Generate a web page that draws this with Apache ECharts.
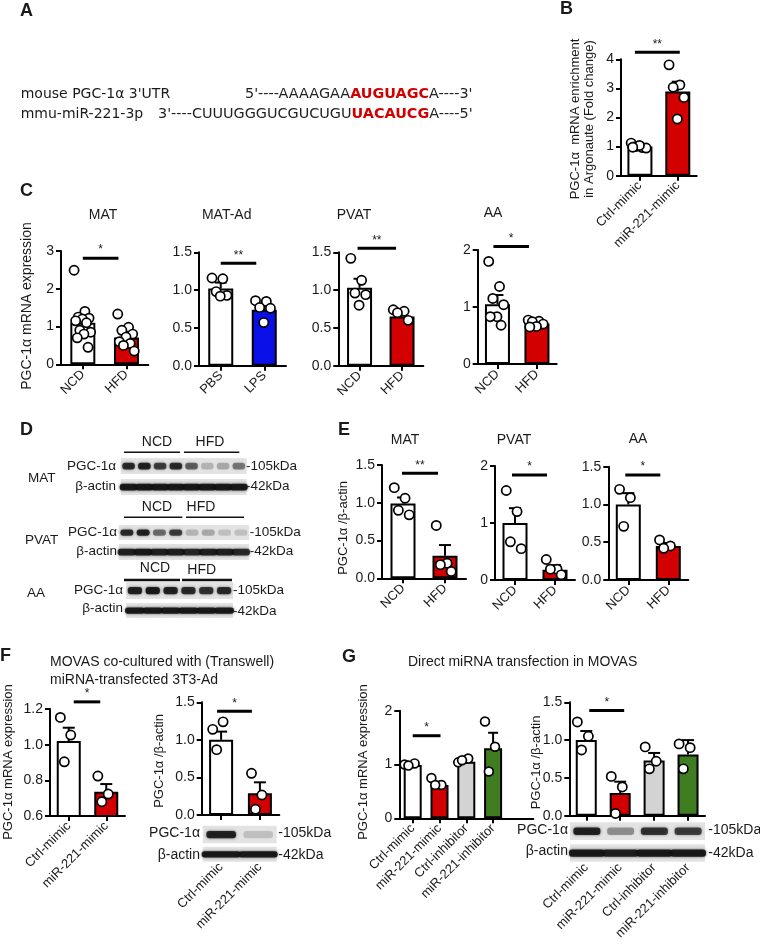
<!DOCTYPE html>
<html><head><meta charset="utf-8">
<script src="https://cdn.jsdelivr.net/npm/echarts@6/dist/echarts.min.js"></script>
<style>html,body{margin:0;padding:0;background:#fff}#c{width:760px;height:945px}</style>
</head><body><div id="c"></div>
<script>
// ================= DATA =================
// Panel B
const B_categories = ['Ctrl-mimic', 'miR-221-mimic'];
const B_mean = [1.00, 2.89];
const B_sem = [0.03, 0.34];
const B_points = [[1.12, 0.97, 1.00, 0.95, 1.04, 0.98], [3.81, 3.12, 3.04, 2.69, 1.95]];
const B_yTicks = [0, 1, 2, 3, 4];

// Panel C
const C_MAT_categories = ['NCD', 'HFD'];
const C_MAT_mean = [1.10, 0.71];
const C_MAT_sem = [0.15, 0.09];
const C_MAT_points = [[2.49, 1.40, 1.25, 1.22, 1.20, 1.15, 1.10, 0.90, 0.85, 0.80, 0.70, 0.45], [1.33, 0.98, 0.90, 0.80, 0.72, 0.60, 0.55, 0.50, 0.35]];
const C_MAT_yTicks = [0, 1, 2, 3];

const C_MATAd_categories = ['PBS', 'LPS'];
const C_MATAd_mean = [1.02, 0.74];
const C_MATAd_sem = [0.08, 0.05];
const C_MATAd_points = [[1.16, 1.15, 0.98, 0.93, 0.92], [0.86, 0.85, 0.77, 0.76, 0.57]];
const C_MATAd_yTicks = [0, 0.5, 1.0, 1.5];

const C_PVAT_categories = ['NCD', 'HFD'];
const C_PVAT_mean = [1.03, 0.65];
const C_PVAT_sem = [0.12, 0.03];
const C_PVAT_points = [[1.42, 1.13, 0.96, 0.94, 0.80], [0.74, 0.72, 0.70, 0.60]];
const C_PVAT_yTicks = [0, 0.5, 1.0, 1.5];

const C_AA_categories = ['NCD', 'HFD'];
const C_AA_mean = [1.05, 0.71];
const C_AA_sem = [0.16, 0.03];
const C_AA_points = [[1.80, 1.36, 1.15, 1.04, 0.83, 0.83, 0.68], [0.77, 0.75, 0.74, 0.70, 0.66, 0.65]];
const C_AA_yTicks = [0, 1, 2];

// Panel E
const E_MAT_categories = ['NCD', 'HFD'];
const E_MAT_mean = [0.99, 0.30];
const E_MAT_sem = [0.08, 0.14];
const E_MAT_points = [[1.20, 1.06, 0.90, 0.84], [0.70, 0.20, 0.18, 0.09]];
const E_MAT_yTicks = [0, 0.5, 1.0, 1.5];

const E_PVAT_categories = ['NCD', 'HFD'];
const E_PVAT_mean = [1.00, 0.18];
const E_PVAT_sem = [0.26, 0.08];
const E_PVAT_points = [[1.57, 1.20, 0.67, 0.55], [0.36, 0.19, 0.19, 0.09]];
const E_PVAT_yTicks = [0, 1, 2];

const E_AA_categories = ['NCD', 'HFD'];
const E_AA_mean = [1.00, 0.45];
const E_AA_sem = [0.15, 0.04];
const E_AA_points = [[1.20, 1.09, 0.71], [0.53, 0.45, 0.42]];
const E_AA_yTicks = [0, 0.5, 1.0, 1.5];

// Panel F
const F_categories = ['Ctrl-mimic', 'miR-221-mimic'];
const F_mrna_mean = [1.02, 0.736];
const F_mrna_sem = [0.075, 0.043];
const F_mrna_points = [[1.153, 1.054, 0.904], [0.824, 0.723, 0.680]];
const F_mrna_yTicks = [0.6, 0.8, 1.0, 1.2];

const F_prot_mean = [1.00, 0.29];
const F_prot_sem = [0.11, 0.145];
const F_prot_points = [[1.14, 1.24, 0.87], [0.555, 0.266, 0.076]];
const F_prot_yTicks = [0, 0.5, 1.0, 1.5];

// Panel G
const G_categories = ['Ctrl-mimic', 'miR-221-mimic', 'Ctrl-inhibitor', 'miR-221-inhibitor'];
const G_mrna_mean = [0.99, 0.62, 1.05, 1.30];
const G_mrna_sem = [0.02, 0.06, 0.03, 0.29];
const G_mrna_points = [[1.00, 1.02, 0.98], [0.75, 0.62, 0.62], [1.04, 1.11, 1.08], [1.80, 1.33, 0.87]];
const G_mrna_yTicks = [0, 1, 2];

const G_prot_mean = [1.00, 0.30, 0.73, 0.81];
const G_prot_sem = [0.12, 0.15, 0.10, 0.19];
const G_prot_points = [[1.24, 1.05, 0.87], [0.52, 0.38, 0.03], [0.91, 0.72, 0.62], [0.95, 0.90, 0.62]];
const G_prot_yTicks = [0, 0.5, 1.0, 1.5];

// ================= STYLE / LAYOUT =================
const FONT = 'Liberation Sans, Arial, sans-serif';
const TXT = '#1a1a1a';
const WHITE = '#ffffff', RED = '#d20000', BLUE = '#0a10e8', GRAY = '#d3d3d3', GREEN = '#3f7d20';

const grids = [], xAxes = [], yAxes = [], series = [];

function addPanel(p) {
  const gi = grids.length;
  const n = p.cats.length;
  grids.push({ left: p.box[0], top: p.box[1], width: p.box[2], height: p.box[3] });
  const xa = {
    type: 'category', gridIndex: gi, data: p.cats, boundaryGap: true,
    axisLine: { show: true, lineStyle: { color: '#000', width: 2 } },
    axisTick: { show: true, alignWithLabel: true, length: 5, lineStyle: { color: '#000', width: 2 } },
    axisLabel: { rotate: 45, fontSize: p.xfs || 13, color: TXT, margin: p.xMargin || 8, fontFamily: FONT, interval: 0 },
    splitLine: { show: false }
  };
  if (p.slots) {
    xa.max = p.slots - 1;
    xa.axisTick.interval = (i) => i < n;
    xa.axisLabel.interval = (i) => i < n;
    xa.axisLabel.formatter = (v, i) => (i < n ? p.cats[i] : '');
  }
  xAxes.push(xa);
  const t = p.ticks;
  yAxes.push({
    type: 'value', gridIndex: gi, min: t[0], max: t[t.length - 1], interval: +(t[1] - t[0]).toFixed(6),
    axisLine: { show: true, lineStyle: { color: '#000', width: 2 } },
    axisTick: { show: true, length: 5, lineStyle: { color: '#000', width: 2 } },
    splitLine: { show: false },
    axisLabel: { fontSize: p.yfs || 14, color: TXT, margin: 7, fontFamily: FONT, formatter: (v) => (+v).toFixed(p.dec) }
  });
  const common = { xAxisIndex: gi, yAxisIndex: gi, silent: true, animation: false };
  series.push(Object.assign({
    type: 'bar', barWidth: p.bw, z: 2,
    data: p.means.map((v, i) => ({ value: v, itemStyle: { color: p.colors[i] } })),
    itemStyle: { borderColor: '#000', borderWidth: 2 }
  }, common));
  // error bars (mean + SEM, upward)
  series.push(Object.assign({
    type: 'custom', z: 3, encode: { x: 0, y: [1, 2] },
    data: p.means.map((m, i) => [i, m, m + p.sem[i]]),
    renderItem: (params, api) => {
      const a = api.coord([api.value(0), api.value(1)]);
      const b = api.coord([api.value(0), api.value(2)]);
      const cw = p.cap || 6;
      return { type: 'group', children: [
        { type: 'line', shape: { x1: a[0], y1: a[1], x2: b[0], y2: b[1] }, style: { stroke: '#000', lineWidth: 2 } },
        { type: 'line', shape: { x1: b[0] - cw, y1: b[1], x2: b[0] + cw, y2: b[1] }, style: { stroke: '#000', lineWidth: 2 } }
      ] };
    }
  }, common));
  // individual points (deterministic spread across the bar)
  const pts = [];
  p.points.forEach((arr, i) => arr.forEach((v, k) => pts.push([i, v, k, arr.length])));
  series.push(Object.assign({
    type: 'custom', z: 4, encode: { x: 0, y: 1 }, data: pts,
    renderItem: (params, api) => {
      const c = api.coord([api.value(0), api.value(1)]);
      const k = api.value(2), cnt = api.value(3);
      const off = cnt > 1 ? (((k * 0.618034) % 1) - 0.5) * (p.jit || 0.7) * p.bw : 0;
      return { type: 'circle', shape: { cx: c[0] + off, cy: c[1], r: p.r || 4.6 }, style: { fill: '#fff', stroke: '#000', lineWidth: 1.7 } };
    }
  }, common));
  // significance bar
  const s = p.sig;
  series.push(Object.assign({
    type: 'custom', z: 5, encode: { x: [0, 1], y: 2 }, clip: false,
    data: [[s.from, s.to, s.y]],
    renderItem: (params, api) => {
      const a = api.coord([api.value(0), api.value(2)]);
      const b = api.coord([api.value(1), api.value(2)]);
      const x1 = a[0] + s.off[0], x2 = b[0] + s.off[1];
      return { type: 'group', children: [
        { type: 'line', shape: { x1: x1, y1: a[1], x2: x2, y2: a[1] }, style: { stroke: '#000', lineWidth: 3 } },
        { type: 'text', x: (x1 + x2) / 2, y: a[1] - 2, style: { text: s.label, fill: TXT, font: '12px ' + FONT, align: 'center', verticalAlign: 'bottom' } }
      ] };
    }
  }, common));
}

addPanel({ box: [621, 59.3, 75.7, 116.4], cats: B_categories, means: B_mean, sem: B_sem, points: B_points, ticks: B_yTicks, dec: 0,
  colors: [WHITE, RED], bw: 25, sig: { from: 0, to: 1, y: 4.24, label: '**', off: [-5, 2] } });
addPanel({ box: [61, 251, 87.3, 113.3], cats: C_MAT_categories, means: C_MAT_mean, sem: C_MAT_sem, points: C_MAT_points, ticks: C_MAT_yTicks, dec: 0,
  colors: [WHITE, RED], bw: 25, sig: { from: 0, to: 1, y: 2.81, label: '*', off: [0, -8] } });
addPanel({ box: [199, 252.3, 87, 113.4], cats: C_MATAd_categories, means: C_MATAd_mean, sem: C_MATAd_sem, points: C_MATAd_points, ticks: C_MATAd_yTicks, dec: 1,
  colors: [WHITE, BLUE], bw: 25, sig: { from: 0, to: 1, y: 1.355, label: '**', off: [0, -8] } });
addPanel({ box: [338.3, 252.3, 85, 113.4], cats: C_PVAT_categories, means: C_PVAT_mean, sem: C_PVAT_sem, points: C_PVAT_points, ticks: C_PVAT_yTicks, dec: 1,
  colors: [WHITE, RED], bw: 25, sig: { from: 0, to: 1, y: 1.553, label: '**', off: [-2, -6] } });
addPanel({ box: [477.7, 250, 79, 114], cats: C_AA_categories, means: C_AA_mean, sem: C_AA_sem, points: C_AA_points, ticks: C_AA_yTicks, dec: 0,
  colors: [WHITE, RED], bw: 25, sig: { from: 0, to: 1, y: 2.06, label: '*', off: [-4, -8] } });
addPanel({ box: [382, 465, 84, 113.3], cats: E_MAT_categories, means: E_MAT_mean, sem: E_MAT_sem, points: E_MAT_points, ticks: E_MAT_yTicks, dec: 1,
  colors: [WHITE, RED], bw: 25, sig: { from: 0, to: 1, y: 1.39, label: '**', off: [-1, -7] } });
addPanel({ box: [495, 466, 80, 114], cats: E_PVAT_categories, means: E_PVAT_mean, sem: E_PVAT_sem, points: E_PVAT_points, ticks: E_PVAT_yTicks, dec: 0,
  colors: [WHITE, RED], bw: 25, sig: { from: 0, to: 1, y: 1.84, label: '*', off: [-3, -8] } });
addPanel({ box: [608.3, 466.7, 80, 113.3], cats: E_AA_categories, means: E_AA_mean, sem: E_AA_sem, points: E_AA_points, ticks: E_AA_yTicks, dec: 1,
  colors: [WHITE, RED], bw: 25, sig: { from: 0, to: 1, y: 1.39, label: '*', off: [-3, -8] } });
addPanel({ box: [50, 709, 75, 107], cats: F_categories, means: F_mrna_mean, sem: F_mrna_sem, points: F_mrna_points, ticks: F_mrna_yTicks, dec: 1,
  colors: [WHITE, RED], bw: 24, sig: { from: 0, to: 1, y: 1.24, label: '*', off: [5, -6] } });
addPanel({ box: [201.7, 702.3, 77.6, 112.7], cats: F_categories, means: F_prot_mean, sem: F_prot_sem, points: F_prot_points, ticks: F_prot_yTicks, dec: 1,
  colors: [WHITE, RED], bw: 24, xMargin: 50, sig: { from: 0, to: 1, y: 1.38, label: '*', off: [-4, -8] } });
addPanel({ box: [399.3, 710.7, 134, 107.6], cats: G_categories, means: G_mrna_mean, sem: G_mrna_sem, points: G_mrna_points, ticks: G_mrna_yTicks, dec: 0,
  colors: [WHITE, RED, GRAY, GREEN], bw: 18, slots: 5, cap: 5, r: 4.4, jit: 0.9, sig: { from: 0, to: 1, y: 1.535, label: '*', off: [0, 1] } });
addPanel({ box: [569.3, 702.3, 135.7, 113.4], cats: G_categories, means: G_prot_mean, sem: G_prot_sem, points: G_prot_points, ticks: G_prot_yTicks, dec: 1,
  colors: [WHITE, RED, GRAY, GREEN], bw: 21, xMargin: 50, cap: 6, r: 4.6, jit: 0.85, sig: { from: 0, to: 1, y: 1.39, label: '*', off: [3, 4] } });

// ================= GRAPHIC (text, blots) =================
const G = [];
function txt(x, y, text, o) {
  o = o || {};
  G.push({ type: 'text', x: x, y: y, rotation: o.rot || 0, silent: true, z: 10,
    style: { text: text, fill: o.fill || TXT, font: (o.weight || '') + ' ' + (o.size || 13) + 'px ' + (o.family || FONT),
      align: o.align || 'left', verticalAlign: o.va || 'middle' } });
}
function ylab(x, y, text, size) { txt(x, y, text, { rot: Math.PI / 2, align: 'center', size: size || 13 }); }
function hline(x1, x2, y, w) { G.push({ type: 'line', silent: true, shape: { x1: x1, y1: y, x2: x2, y2: y }, style: { stroke: '#111', lineWidth: w || 1.5 } }); }
function blot(x, y, w, h, lanes, full) {
  const kids = [{ type: 'rect', shape: { x: 0, y: 0, width: w, height: h }, style: { fill: '#e3e3e3' } }];
  const lw = w / lanes.length;
  lanes.forEach((v, i) => {
    const bx = full ? i * lw - 1 : i * lw + lw * 0.1;
    const bwid = full ? lw + 2 : lw * 0.8;
    kids.push({ type: 'rect', shape: { x: bx, y: h * 0.3, width: bwid, height: h * 0.42, r: 3 },
      style: { fill: 'rgba(15,15,15,' + v + ')', shadowBlur: 3, shadowColor: 'rgba(15,15,15,' + v * 0.8 + ')' } });
  });
  G.push({ type: 'group', x: x, y: y, silent: true, children: kids });
}

// panel letters
const L = { weight: 'bold', size: 18 };
txt(20, 11, 'A', L); txt(560, 9, 'B', L); txt(20, 191, 'C', L); txt(20, 430, 'D', L);
txt(338, 430, 'E', L); txt(0, 656, 'F', L); txt(342, 657, 'G', L);

// Panel A text
const DV = 'DejaVu Sans, Verdana, sans-serif';
txt(20.7, 94.3, "mouse PGC-1α 3'UTR", { size: 14, family: DV });
txt(20.7, 114.3, 'mmu-miR-221-3p', { size: 14, family: DV });
const richA = { n: { font: '14.4px ' + DV, fill: '#222' }, r: { font: 'bold 14.4px ' + DV, fill: '#d00000' } };
G.push({ type: 'text', x: 245, y: 94.3, silent: true, style: { text: "{n|5'----AAAAGAA}{r|AUGUAGC}{n|A----3'}", rich: richA, verticalAlign: 'middle' } });
G.push({ type: 'text', x: 158, y: 114.3, silent: true, style: { text: "{n|3'----CUUUGGGUCGUCUGU}{r|UACAUCG}{n|A----5'}", rich: richA, verticalAlign: 'middle' } });

// axis titles
txt(575, 119, 'PGC-1α  mRNA enrichment', { rot: Math.PI / 2, align: 'center', size: 13 });
txt(589, 119, 'in Argonaute (Fold change)', { rot: Math.PI / 2, align: 'center', size: 13 });
ylab(26.7, 306, 'PGC-1α mRNA expression', 14);
ylab(343.3, 528, 'PGC-1α /β-actin', 13);
ylab(8.3, 762, 'PGC-1α mRNA expression', 13);
ylab(159.3, 761, 'PGC-1α /β-actin', 13);
ylab(363.3, 762, 'PGC-1α mRNA expression', 13);
ylab(536, 762.5, 'PGC-1α /β-actin', 13);

// chart titles
const T = { align: 'center', size: 14 };
txt(103, 215, 'MAT', T); txt(226.7, 215, 'MAT-Ad', T); txt(354, 215, 'PVAT', T); txt(493, 213, 'AA', T);
txt(405, 440, 'MAT', T); txt(514, 440, 'PVAT', T); txt(638, 439, 'AA', T);
txt(50, 662, 'MOVAS co-cultured with (Transwell)', { size: 14 });
txt(50, 680, 'miRNA-transfected 3T3-Ad', { size: 14 });
txt(408, 662, 'Direct miRNA transfection in MOVAS', { size: 14 });

// Panel D blots
const BL = { size: 13.5 };
// MAT
txt(157, 442, 'NCD', { align: 'center', size: 14 }); txt(210, 442, 'HFD', { align: 'center', size: 14 });
hline(124, 180, 452.3); hline(184, 239.3, 452.3);
txt(28, 478, 'MAT', BL);
txt(116, 466.7, 'PGC-1α', { align: 'right', size: 13.5 });
blot(120.7, 458, 126, 16, [0.8, 0.85, 0.7, 0.8, 0.55, 0.2, 0.25, 0.45]);
txt(246, 466.7, '-105kDa', BL);
txt(116, 486.7, 'β-actin', { align: 'right', size: 13.5 });
blot(120.7, 479, 126, 16, [0.9, 0.9, 0.9, 0.9, 0.9, 0.9, 0.9, 0.9], true);
txt(246, 486.7, '-42kDa', BL);
// PVAT
txt(157, 507.3, 'NCD', { align: 'center', size: 14 }); txt(201, 507.3, 'HFD', { align: 'center', size: 14 });
hline(124, 182.3, 517.3); hline(186, 244, 517.3);
txt(25, 540, 'PVAT', BL);
txt(117, 532.7, 'PGC-1α', { align: 'right', size: 13.5 });
blot(118.7, 525, 130.3, 15, [0.8, 0.85, 0.5, 0.7, 0.2, 0.25, 0.15, 0.15]);
txt(249.7, 532.7, '-105kDa', BL);
txt(117, 551.7, 'β-actin', { align: 'right', size: 13.5 });
blot(118.7, 544, 130.3, 16, [0.85, 0.9, 0.85, 0.85, 0.8, 0.85, 0.85, 0.8], true);
txt(249.7, 551.7, '-42kDa', BL);
// AA
txt(155, 568.3, 'NCD', { align: 'center', size: 14 }); txt(201.7, 570, 'HFD', { align: 'center', size: 14 });
hline(124, 180, 580, 2.5); hline(182, 232, 580, 2.5);
txt(27, 593.3, 'AA', BL);
txt(123, 590, 'PGC-1α', { align: 'right', size: 13.5 });
blot(126, 582, 107, 17, [0.85, 0.9, 0.85, 0.8, 0.75, 0.8]);
txt(233, 590, '-105kDa', BL);
txt(123, 608.3, 'β-actin', { align: 'right', size: 13.5 });
blot(126, 603, 107, 15, [0.9, 0.9, 0.9, 0.9, 0.9, 0.9], true);
txt(233, 611, '-42kDa', BL);

// Panel F blot
txt(200, 833.3, 'PGC-1α', { align: 'right', size: 14 });
blot(202.7, 825.7, 74, 17.6, [0.85, 0.15]);
txt(278.3, 833.3, '-105kDa', { size: 14 });
txt(200, 855, 'β-actin', { align: 'right', size: 14 });
blot(202.7, 846.7, 74, 15, [0.9, 0.9], true);
txt(278.3, 855, '-42kDa', { size: 14 });

// Panel G blot
txt(568, 830, 'PGC-1α', { align: 'right', size: 14 });
blot(570, 822.3, 135, 17.7, [0.85, 0.35, 0.75, 0.7]);
txt(708.3, 830, '-105kDa', { size: 14 });
txt(568, 851, 'β-actin', { align: 'right', size: 14 });
blot(570, 844.3, 135, 17.4, [0.9, 0.85, 0.9, 0.9], true);
txt(708.3, 853, '-42kDa', { size: 14 });

const chart = echarts.init(document.getElementById('c'), null, { renderer: 'canvas' });
chart.setOption({
  animation: false,
  backgroundColor: '#fff',
  textStyle: { fontFamily: FONT },
  grid: grids, xAxis: xAxes, yAxis: yAxes, series: series,
  graphic: { elements: G }
});
</script></body></html>
